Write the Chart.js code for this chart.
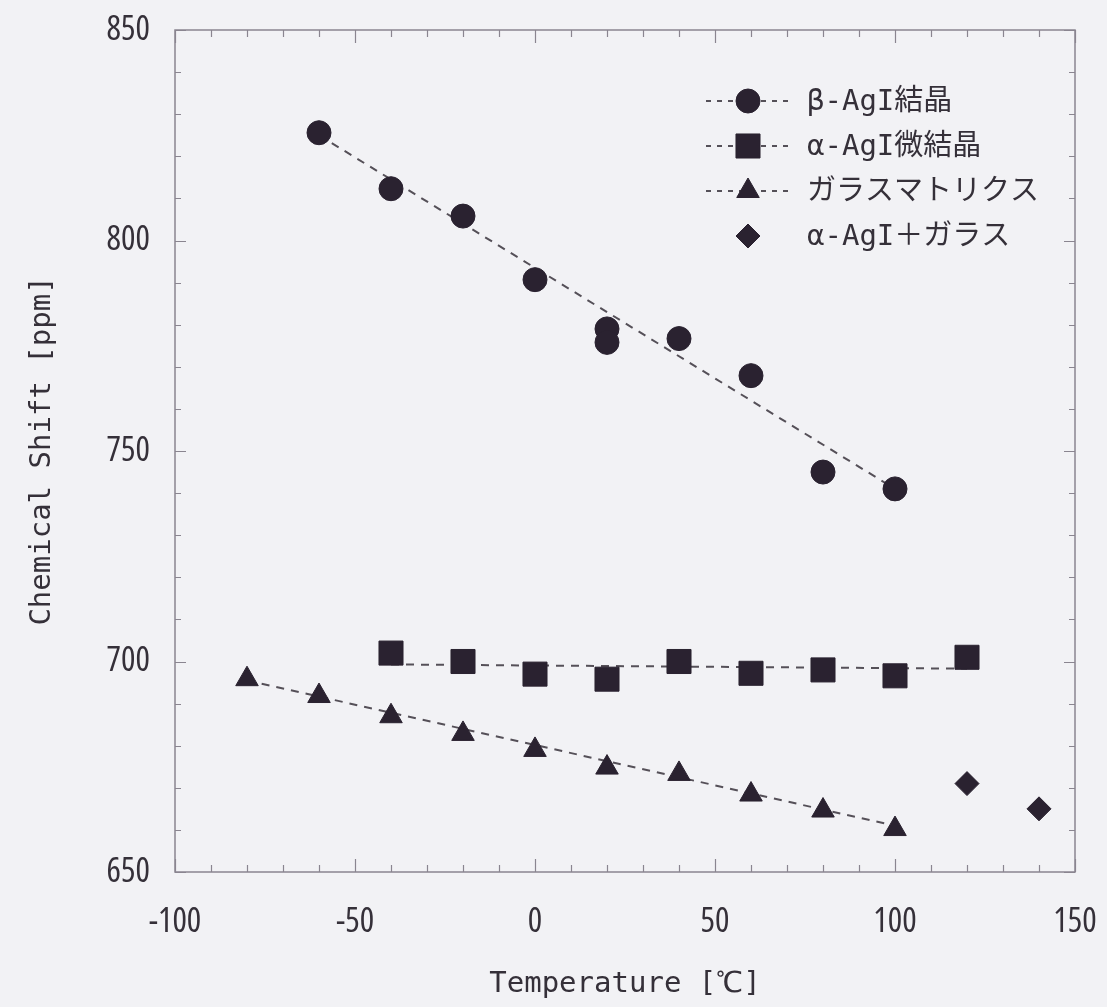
<!DOCTYPE html>
<html lang="ja">
<head>
<meta charset="utf-8">
<title>Chemical Shift vs Temperature</title>
<script src="https://cdn.jsdelivr.net/npm/chart.js@4.4.1/dist/chart.umd.min.js"></script>
<style>
  html, body { margin: 0; padding: 0; background: #f2f2f5; }
  #wrap { width: 1107px; height: 1007px; position: relative; }
</style>
</head>
<body>
<div id="wrap"><canvas id="c" width="1107" height="1007"></canvas></div>
<script>
// β-AgI crystal
const betaT = [-60, -40, -20, 0, 20, 20, 40, 60, 80, 100];
const betaShift = [825.6, 812.3, 805.8, 790.7, 779.0, 775.8, 776.7, 767.9, 745.0, 741.0];

// α-AgI microcrystal
const alphaT = [-40, -20, 0, 20, 40, 60, 80, 100, 120];
const alphaShift = [702.0, 700.0, 697.0, 695.8, 700.0, 697.2, 698.0, 696.6, 701.0];

// glass matrix
const glassT = [-80, -60, -40, -20, 0, 20, 40, 60, 80, 100];
const glassShift = [695.8, 691.8, 687.0, 682.8, 679.0, 674.8, 673.3, 668.4, 664.6, 660.2];

// α-AgI + glass
const mixT = [120, 140];
const mixShift = [671.0, 665.0];

// dashed trend lines (end points)
const betaTrendT = [-60, 100];
const betaTrendShift = [825.0, 741.0];
const alphaTrendT = [-40, 120];
const alphaTrendShift = [699.3, 698.3];
const glassTrendT = [-80, 100];
const glassTrendShift = [695.5, 661.0];

const seriesLabels = ['β-AgI結晶', 'α-AgI微結晶', 'ガラスマトリクス', 'α-AgI＋ガラス'];
const xTickValues = [-100, -50, 0, 50, 100, 150];
const yTickValues = [650, 700, 750, 800, 850];

const TEXT = '#353039';
const MARK = '#2a2230';
const DASH = '#555058';
const NUM_FONT = '"Open Sans", Roboto, sans-serif';
const TITLE_FONT = '"DejaVu Sans Mono", "Liberation Mono", monospace';
const KEY_FONT = '"DejaVu Sans Mono", "Noto Sans CJK JP", sans-serif';

const toPoints = (xs, ys) => xs.map((x, i) => ({ x: x, y: ys[i] }));

function markerSet(label, xs, ys, style, radius, dashed) {
  return {
    label: label,
    data: toPoints(xs, ys),
    showLine: false,
    pointStyle: style,
    pointRadius: radius,
    pointHoverRadius: radius,
    pointBackgroundColor: MARK,
    pointBorderColor: MARK,
    pointBorderWidth: 1,
    keyLabel: true,
    keyDash: dashed,
    order: 0
  };
}

function trendSet(label, xs, ys) {
  return {
    label: label,
    data: toPoints(xs, ys),
    showLine: true,
    pointRadius: 0,
    borderColor: DASH,
    borderWidth: 2,
    borderDash: [8, 7],
    fill: false,
    order: 1
  };
}

// background fill of the whole canvas
const backdrop = {
  id: 'backdrop',
  beforeDraw(chart) {
    const ctx = chart.ctx;
    ctx.save();
    ctx.fillStyle = '#f2f2f5';
    ctx.fillRect(0, 0, chart.width, chart.height);
    ctx.restore();
  }
};

// plot frame with inward ticks on all four sides
const frame = {
  id: 'frame',
  beforeDatasetsDraw(chart) {
    const { ctx, chartArea: a, scales } = chart;
    const xs = scales.x, ys = scales.y;
    ctx.save();
    ctx.strokeStyle = '#8a8590';
    ctx.lineWidth = 1.5;
    ctx.strokeRect(a.left, a.top, a.right - a.left, a.bottom - a.top);
    ctx.lineWidth = 1.2;
    ctx.beginPath();
    for (let v = xs.min; v <= xs.max + 1e-6; v += 10) {
      const px = Math.round(xs.getPixelForValue(v)) + 0.5;
      const major = Math.abs(v % 50) < 1e-6;
      const len = major ? 13 : 7;
      ctx.moveTo(px, a.bottom); ctx.lineTo(px, a.bottom - len);
      ctx.moveTo(px, a.top); ctx.lineTo(px, a.top + len);
    }
    for (let v = ys.min; v <= ys.max + 1e-6; v += 10) {
      const py = Math.round(ys.getPixelForValue(v)) + 0.5;
      const major = Math.abs(v % 50) < 1e-6;
      const len = major ? 11 : 6;
      ctx.moveTo(a.left, py); ctx.lineTo(a.left + len, py);
      ctx.moveTo(a.right, py); ctx.lineTo(a.right - len, py);
    }
    ctx.stroke();
    ctx.restore();
  }
};

function drawMarker(ctx, style, radius, x, y) {
  if (Chart.helpers && Chart.helpers.drawPoint) {
    Chart.helpers.drawPoint(ctx, { pointStyle: style, radius: radius, rotation: 0, borderWidth: 1 }, x, y);
    return;
  }
  ctx.beginPath();
  if (style === 'circle') {
    ctx.arc(x, y, radius, 0, Math.PI * 2);
  } else if (style === 'rect') {
    const s = Math.SQRT1_2 * radius;
    ctx.rect(x - s, y - s, 2 * s, 2 * s);
  } else if (style === 'triangle') {
    for (let k = 0; k < 3; k++) {
      const ang = k * 2 * Math.PI / 3;
      const px = x + Math.sin(ang) * radius, py = y - Math.cos(ang) * radius;
      if (k === 0) ctx.moveTo(px, py); else ctx.lineTo(px, py);
    }
    ctx.closePath();
  } else {
    ctx.moveTo(x, y - radius); ctx.lineTo(x + radius, y);
    ctx.lineTo(x, y + radius); ctx.lineTo(x - radius, y);
    ctx.closePath();
  }
  ctx.fill();
  ctx.stroke();
}

// series key in the upper right corner of the plot
const seriesKey = {
  id: 'seriesKey',
  afterDatasetsDraw(chart) {
    const { ctx, chartArea: a } = chart;
    const items = chart.data.datasets.filter(d => d.keyLabel);
    ctx.save();
    items.forEach((d, i) => {
      const y = a.top + 71 + i * 45;
      const mx = a.right - 327;
      if (d.keyDash) {
        ctx.save();
        ctx.strokeStyle = DASH;
        ctx.lineWidth = 2;
        ctx.setLineDash([5, 6]);
        ctx.beginPath();
        ctx.moveTo(mx - 42, y);
        ctx.lineTo(mx + 44, y);
        ctx.stroke();
        ctx.restore();
      }
      ctx.fillStyle = MARK;
      ctx.strokeStyle = MARK;
      ctx.lineWidth = 1;
      drawMarker(ctx, d.pointStyle, d.pointRadius, mx, y);
      ctx.fillStyle = TEXT;
      ctx.font = '29px ' + KEY_FONT;
      ctx.textAlign = 'left';
      ctx.textBaseline = 'middle';
      ctx.fillText(d.label, a.right - 268, y + 1);
    });
    ctx.restore();
  }
};

new Chart(document.getElementById('c'), {
  type: 'scatter',
  data: {
    datasets: [
      markerSet(seriesLabels[0], betaT, betaShift, 'circle', 12, true),
      markerSet(seriesLabels[1], alphaT, alphaShift, 'rect', 17, true),
      markerSet(seriesLabels[2], glassT, glassShift, 'triangle', 13, true),
      markerSet(seriesLabels[3], mixT, mixShift, 'rectRot', 12, false),
      trendSet('β-AgI trend', betaTrendT, betaTrendShift),
      trendSet('α-AgI trend', alphaTrendT, alphaTrendShift),
      trendSet('glass trend', glassTrendT, glassTrendShift)
    ]
  },
  options: {
    responsive: false,
    animation: false,
    layout: { padding: { top: 30, right: 32, bottom: 0, left: 0 } },
    plugins: {
      legend: { display: false },
      tooltip: { enabled: false }
    },
    scales: {
      x: {
        type: 'linear',
        min: -100,
        max: 150,
        afterFit(s) { s.height = 135; s.paddingLeft = 0; s.paddingRight = 0; },
        afterBuildTicks(s) { s.ticks = xTickValues.map(v => ({ value: v })); },
        grid: { display: false, drawTicks: false },
        border: { display: false },
        ticks: {
          padding: 30,
          color: TEXT,
          maxRotation: 0,
          autoSkip: false,
          font: { family: NUM_FONT, size: 34, weight: '400 condensed' }
        },
        title: {
          display: true,
          text: 'Temperature [℃]',
          color: TEXT,
          font: { family: TITLE_FONT, size: 29 },
          padding: { top: 0, bottom: 5 }
        }
      },
      y: {
        type: 'linear',
        min: 650,
        max: 850,
        afterFit(s) { s.width = 175; s.paddingTop = 0; s.paddingBottom = 0; },
        afterBuildTicks(s) { s.ticks = yTickValues.map(v => ({ value: v })); },
        grid: { display: false, drawTicks: false },
        border: { display: false },
        ticks: {
          padding: 25,
          color: TEXT,
          autoSkip: false,
          font: { family: NUM_FONT, size: 34, weight: '400 condensed' }
        },
        title: {
          display: true,
          text: 'Chemical Shift [ppm]',
          color: TEXT,
          font: { family: TITLE_FONT, size: 29 },
          padding: { top: 25, bottom: 0 }
        }
      }
    }
  },
  plugins: [backdrop, frame, seriesKey]
});
</script>
</body>
</html>
